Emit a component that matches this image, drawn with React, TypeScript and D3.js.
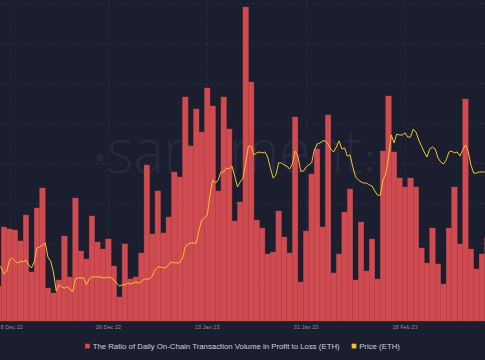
import { useEffect, useRef } from 'react';
import * as d3 from 'd3';

const W = 485;
const H = 360;

// one bar per day, starting 6 Dec 2022
const firstDay = new Date(2022, 11, 6);
const ratioValues = [
  0.35, 0.94, 0.92, 0.91, 0.80, 1.06, 0.49, 1.13, 1.33, 0.33,
  0.28, 0.41, 0.85, 0.44, 1.23, 0.70, 0.62, 1.05, 0.79, 0.72,
  0.82, 0.55, 0.24, 0.77, 0.42, 0.44, 0.68, 1.56, 0.87, 1.30,
  0.88, 1.04, 1.49, 1.44, 2.24, 1.75, 2.12, 1.89, 2.33, 2.15,
  1.30, 2.24, 1.92, 1.00, 1.19, 3.14, 2.39, 1.01, 0.93, 0.67,
  0.69, 1.10, 0.84, 0.68, 2.04, 0.39, 0.90, 1.47, 1.72, 0.94,
  2.06, 0.48, 0.67, 1.09, 1.32, 0.41, 0.99, 0.50, 0.82, 0.42,
  1.70, 2.25, 1.69, 1.43, 1.34, 1.43, 1.34, 0.73, 0.58, 0.93,
  0.57, 0.37, 0.93, 1.34, 0.77, 2.22, 0.72, 0.52, 0.67, 0.83,
];

// ETH price every 12 hours, starting 6 Dec 2022 00:00
const priceValues = [
  1235, 1222, 1201, 1211, 1249, 1256, 1245, 1239, 1245, 1242,
  1249, 1232, 1222, 1242, 1290, 1293, 1300, 1307, 1259, 1245,
  1208, 1143, 1164, 1157, 1153, 1157, 1150, 1140, 1184, 1188,
  1188, 1188, 1164, 1184, 1191, 1191, 1191, 1191, 1188, 1188,
  1191, 1188, 1181, 1170, 1160, 1164, 1164, 1170, 1167, 1170,
  1174, 1170, 1174, 1184, 1184, 1184, 1194, 1215, 1225, 1225,
  1222, 1222, 1235, 1242, 1239, 1239, 1239, 1256, 1293, 1303,
  1307, 1307, 1307, 1351, 1385, 1392, 1402, 1470, 1522, 1511,
  1522, 1549, 1549, 1562, 1559, 1569, 1535, 1498, 1515, 1528,
  1580, 1637, 1637, 1607, 1614, 1617, 1614, 1617, 1600, 1562,
  1528, 1539, 1580, 1580, 1573, 1569, 1559, 1576, 1620, 1603,
  1552, 1552, 1566, 1573, 1580, 1624, 1644, 1648, 1655, 1655,
  1644, 1627, 1617, 1634, 1655, 1627, 1631, 1603, 1607, 1566,
  1532, 1522, 1515, 1511, 1511, 1505, 1501, 1484, 1470, 1470,
  1522, 1542, 1600, 1675, 1648, 1678, 1675, 1675, 1682, 1668,
  1668, 1695, 1685, 1658, 1637, 1617, 1600, 1627, 1634, 1627,
  1597, 1583, 1576, 1590, 1617, 1620, 1614, 1617, 1603, 1624,
  1641, 1620, 1573, 1545, 1545, 1549, 1549, 1549,
];

const tickDates = [
  new Date(2022, 11, 8),
  new Date(2022, 11, 26),
  new Date(2023, 0, 13),
  new Date(2023, 0, 31),
  new Date(2023, 1, 18),
];
const tickLabels = ['8 Dec 22', '26 Dec 22', '13 Jan 23', '31 Jan 23', '18 Feb 23'];

const legendItems = [
  { label: 'The Ratio of Daily On-Chain Transaction Volume in Profit to Loss (ETH)', color: '#e0474d' },
  { label: 'Price (ETH)', color: '#f7c22f' },
];

const BG = '#1b1e2e';
const GRID = '#272b3e';
const BAR = '#d04b50';
const LINE = '#f7bf32';

const App = () => {
  const svgRef = useRef<SVGSVGElement>(null);

  useEffect(() => {
    const svg = d3.select(svgRef.current);
    svg.selectAll('*').remove();

    const x = d3.scaleTime()
      .domain([tickDates[0], tickDates[4]])
      .range([9.5, 405]);
    const step = x(d3.timeDay.offset(tickDates[0], 1)) - x(tickDates[0]);

    const yBar = d3.scaleLinear().domain([0, 3.2]).range([321, 1]);
    const yPrice = d3.scaleLinear().domain([1150, 1750]).range([289, 113]);
    const yGrid = d3.scaleLinear().domain([0, 8]).range([323, 3]);

    svg.append('rect')
      .attr('width', W)
      .attr('height', H)
      .attr('fill', BG);

    // grid
    const grid = svg.append('g')
      .attr('stroke', GRID)
      .attr('stroke-width', 1)
      .attr('stroke-dasharray', '3,3');
    grid.selectAll('.h')
      .data(d3.range(1, 9))
      .enter().append('line')
      .attr('x1', 0)
      .attr('x2', W)
      .attr('y1', d => Math.round(yGrid(d)) + 0.5)
      .attr('y2', d => Math.round(yGrid(d)) + 0.5);
    grid.selectAll('.v')
      .data(tickDates)
      .enter().append('line')
      .attr('x1', d => Math.round(x(d)) + 0.5)
      .attr('x2', d => Math.round(x(d)) + 0.5)
      .attr('y1', 0)
      .attr('y2', 321);

    // watermark
    const wm = svg.append('g').attr('fill', '#262a3c');
    wm.append('circle').attr('cx', 100).attr('cy', 158).attr('r', 3.5);
    wm.append('text')
      .attr('x', 107)
      .attr('y', 173)
      .attr('font-family', 'Open Sans, sans-serif')
      .attr('font-weight', 300)
      .attr('font-size', 62)
      .attr('textLength', 256)
      .attr('lengthAdjust', 'spacingAndGlyphs')
      .text('santiment');
    wm.append('circle').attr('cx', 370).attr('cy', 154).attr('r', 2.6);
    wm.append('circle').attr('cx', 370).attr('cy', 169).attr('r', 2.6);

    // bars
    const bars = ratioValues.map((v, i) => ({ date: d3.timeDay.offset(firstDay, i), value: v }));
    svg.append('g')
      .selectAll('rect')
      .data(bars)
      .enter().append('rect')
      .attr('x', d => x(d.date) - step / 2)
      .attr('y', d => yBar(d.value))
      .attr('width', step)
      .attr('height', d => yBar(0) - yBar(d.value))
      .attr('fill', BAR)
      .attr('stroke', '#b9444b')
      .attr('stroke-width', 0.4);

    // price line
    const prices = priceValues.map((v, i) => ({ date: d3.timeHour.offset(firstDay, i * 12), value: v }));
    const line = d3.line<{ date: Date; value: number }>()
      .x(d => x(d.date))
      .y(d => yPrice(d.value));
    svg.append('path')
      .datum(prices)
      .attr('d', line)
      .attr('fill', 'none')
      .attr('stroke', LINE)
      .attr('stroke-width', 1)
      .attr('stroke-linejoin', 'round');

    // x labels (kept inside the left edge)
    svg.append('g')
      .selectAll('text')
      .data(tickDates)
      .enter().append('text')
      .attr('y', 329)
      .attr('text-anchor', 'middle')
      .attr('font-family', 'Liberation Sans, Arial, sans-serif')
      .attr('font-size', 5.6)
      .attr('fill', '#8a8fa0')
      .text((d, i) => tickLabels[i])
      .attr('x', function (d) {
        const half = (this as SVGTextElement).getComputedTextLength() / 2;
        return Math.max(x(d), half + 0.5);
      });

    // legend
    const legend = svg.append('g');
    let cx = 0;
    legendItems.forEach(item => {
      const g = legend.append('g').attr('transform', `translate(${cx},0)`);
      g.append('rect')
        .attr('x', 0)
        .attr('y', 343.7)
        .attr('width', 4.7)
        .attr('height', 4.7)
        .attr('fill', item.color);
      const t = g.append('text')
        .attr('x', 7.5)
        .attr('y', 348.8)
        .attr('font-family', 'Liberation Sans, Arial, sans-serif')
        .attr('font-size', 7.8)
        .attr('fill', '#cdd0d9')
        .text(item.label);
      const tw = (t.node() as SVGTextElement).getComputedTextLength();
      cx += 7.5 + tw + 12;
    });
    const total = cx - 12;
    legend.attr('transform', `translate(${(W - total) / 2},0)`);
  }, []);

  return (
    <svg
      ref={svgRef}
      width={W}
      height={H}
      style={{ position: 'absolute', left: 0, top: 0, display: 'block' }}
    />
  );
};

export default App;
